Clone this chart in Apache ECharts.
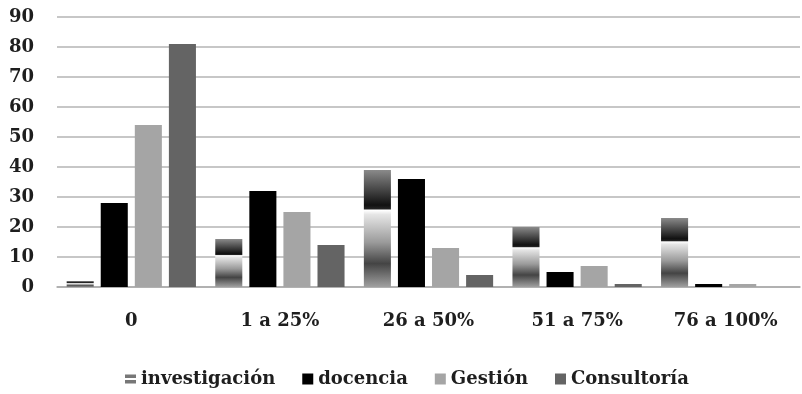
<!DOCTYPE html>
<html><head><meta charset="utf-8">
<script src="https://cdn.jsdelivr.net/npm/echarts@6/dist/echarts.min.js"></script>
<style>html,body{margin:0;padding:0;background:#fff}#c{width:802px;height:394px}</style>
</head><body><div id="c"></div>
<script>
var categories = ['0', '1 a 25%', '26 a 50%', '51 a 75%', '76 a 100%'];
var investigacion = [2, 16, 39, 20, 23];
var docencia = [28, 32, 36, 5, 1];
var gestion = [54, 25, 13, 7, 1];
var consultoria = [81, 14, 4, 1, 0];
var yTicks = [0, 10, 20, 30, 40, 50, 60, 70, 80, 90];

var font = 'DejaVu Serif';
var invGrad = new echarts.graphic.LinearGradient(0, 0, 0, 1, [
  {offset: 0, color: '#8a8a8a'},
  {offset: 0.30, color: '#111'},
  {offset: 0.33, color: '#222'},
  {offset: 0.345, color: '#fff'},
  {offset: 0.38, color: '#e6e6e6'},
  {offset: 0.62, color: '#9a9a9a'},
  {offset: 0.80, color: '#444'},
  {offset: 1, color: '#a0a0a0'}
]);
var txt = {fontFamily: font, fontSize: 18, fontWeight: 'bold', color: '#1e1e1e'};
var chart = echarts.init(document.getElementById('c'));
chart.setOption({
  animation: false,
  grid: {left: 57, right: 2, top: 17, bottom: 107},
  legend: {
    bottom: 1, left: 120, itemWidth: 11, itemHeight: 11, itemGap: 27,
    textStyle: txt,
    data: [
      {name: 'investigación', icon: 'path://M0,1H10V4H0Z M0,6H10V9H0Z', itemStyle: {color: '#777'}},
      {name: 'docencia', icon: 'rect'},
      {name: 'Gestión', icon: 'rect'},
      {name: 'Consultoría', icon: 'rect'}
    ]
  },
  xAxis: {
    type: 'category', data: categories,
    axisLine: {lineStyle: {color: '#aaa', width: 1.5}},
    axisTick: {show: false},
    axisLabel: Object.assign({margin: 25}, txt)
  },
  yAxis: {
    type: 'value', min: 0, max: 90, interval: 10,
    axisLine: {show: false}, axisTick: {show: false},
    splitLine: {lineStyle: {color: '#b5b5b5', width: 1.5}},
    axisLabel: Object.assign({margin: 23,
      formatter: function (v) { return yTicks.indexOf(v) >= 0 ? String(v) : ''; }}, txt)
  },
  series: [
    {name: 'investigación', type: 'bar', data: investigacion, barGap: '26%', barCategoryGap: '13%',
      itemStyle: {color: invGrad}},
    {name: 'docencia', type: 'bar', data: docencia, itemStyle: {color: '#000'}},
    {name: 'Gestión', type: 'bar', data: gestion, itemStyle: {color: '#a5a5a5'}},
    {name: 'Consultoría', type: 'bar', data: consultoria, itemStyle: {color: '#646464'}}
  ]
});
</script></body></html>
